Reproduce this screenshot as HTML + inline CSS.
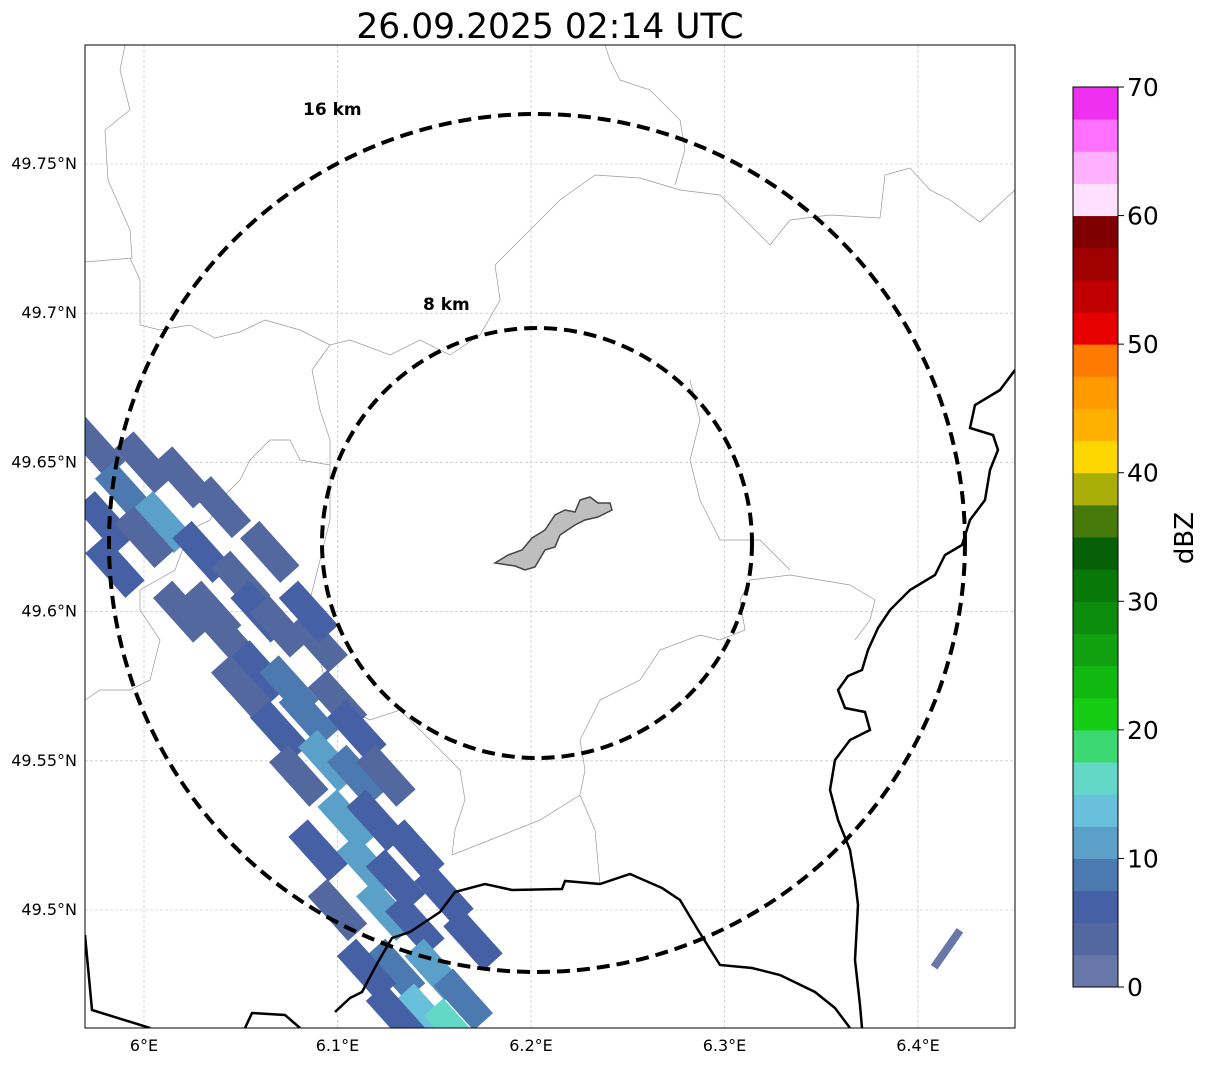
<!DOCTYPE html>
<html><head><meta charset="utf-8"><style>
body{margin:0;background:#fff;font-family:"DejaVu Sans",sans-serif}
</style></head><body>
<svg width="1207" height="1064" xmlns="http://www.w3.org/2000/svg" font-family="DejaVu Sans, sans-serif">
<text x="550" y="38" font-size="34.5" text-anchor="middle">26.09.2025 02:14 UTC</text>
<defs><clipPath id="pc"><rect x="85" y="45" width="930" height="983"/></clipPath></defs>
<g id="grid"></g>
<g clip-path="url(#pc)">
<g fill="none" stroke="#999" stroke-width="0.7">
<polyline points="125,45 120,70 130,110 105,130 108,180 130,230 132,258 85,262"/>
<polyline points="130,258 140,280 140,325 160,330 190,325 215,338 240,332 265,320 300,330 330,345 350,340 390,355 420,340 450,355 480,335 500,300 495,265 520,240 540,220 560,200 595,175 640,178 680,190 720,195 740,215 770,245 790,220 830,215 880,218 885,175 910,168 930,190 950,200 980,222 1015,190"/>
<polyline points="605,45 610,60 620,80 650,90 680,120 685,150 675,185"/>
<polyline points="330,345 312,370 320,410 330,440 330,465 300,460 290,440 270,440 250,460 240,480 220,500 210,520 190,530 175,570 140,590 140,610 160,640 150,680 130,690 100,690 85,700"/>
<polyline points="330,465 330,520 320,560 310,600 300,630 320,660 330,700 350,710 370,720 400,710 430,740 460,770 465,800 455,830 452,855 490,840 540,820 580,795 585,770 580,740 600,700 640,680 660,650 700,635 720,640 745,630 740,600 750,580 790,575 850,585 875,600 870,620 855,640"/>
<polyline points="580,795 595,830 600,885"/>
<polyline points="690,380 700,420 690,460 700,500 720,540 760,540 790,570"/>
</g>
<g id="cells"></g>
<g fill="none" stroke="#000" stroke-width="2.5">
<polyline points="1015,370 1000,390 975,405 970,428 993,435 998,450 990,470 985,500 970,520 962,545 945,555 935,575 910,590 890,610 878,628 868,650 862,670 848,676 838,690 845,708 865,712 870,730 850,740 835,760 830,790 838,820 850,850 855,880 858,905 855,960 860,1005 862,1028"/>
<polyline points="85,935 92,1010 150,1028"/>
<polyline points="245,1028 252,1013 285,1015 300,1028"/>
<polyline points="335,1012 350,998 362,992 378,962 392,938 410,932 440,912 455,892 485,884 512,890 562,889 565,881 600,884 630,874 662,888 680,900 698,930 720,965 752,968 780,975 815,992 835,1008 850,1028"/>
</g>
<polygon points="495,563 508,555 522,550 532,538 545,530 555,515 565,510 575,512 580,500 590,497 598,503 610,503 612,510 598,517 585,520 575,525 560,535 555,547 545,550 535,567 525,570 515,566" fill="#bebebe" stroke="#444" stroke-width="1.5"/>
<ellipse cx="537" cy="543" rx="428" ry="429" fill="none" stroke="#000" stroke-width="4" stroke-dasharray="13,7"/>
<ellipse cx="537" cy="543" rx="215" ry="215" fill="none" stroke="#000" stroke-width="4" stroke-dasharray="13,7"/>
</g>
<text x="303" y="115" font-size="17" font-weight="bold">16 km</text>
<text x="423" y="310" font-size="17" font-weight="bold">8 km</text>
<rect x="85" y="45" width="930" height="983" fill="none" stroke="#000" stroke-width="1"/>
<g id="ticks" font-size="16"></g>
<g id="cbar"></g>
<text transform="translate(1193,538) rotate(-90)" font-size="26" text-anchor="middle">dBZ</text>
</svg>
<script>
const lonTicks=[6.0,6.1,6.2,6.3,6.4];
const lonLabels=["6°E","6.1°E","6.2°E","6.3°E","6.4°E"];
const latTicks=[49.75,49.7,49.65,49.6,49.55,49.5];
const latLabels=["49.75°N","49.7°N","49.65°N","49.6°N","49.55°N","49.5°N"];
const cbTicks=[0,10,20,30,40,50,60,70];
const cbColors=["#6677a8","#5468a0","#4560a5","#4c7ab0","#5aa0c8","#69c0dc","#63d8c8","#3cd872","#14cc14","#10b810","#10a010","#0c8c0c","#087808","#066006","#457a0a","#aaae08","#ffd700","#ffb000","#ff9a00","#ff7a00","#e60000","#c00000","#a00000","#800000","#ffe0ff","#ffb0ff","#ff70ff","#f030f0"];
const cellLon=[5.975,5.99,6.0,6.01,5.98,6.02,6.03,6.04,6.05,6.06,6.07,6.045,6.06,6.075,6.09,6.085,6.07,6.1,6.095,6.11,6.08,6.105,6.12,6.09,6.115,6.13,6.1,6.125,6.14,6.13,6.15,6.115,6.145,6.165,6.16,6.13,6.05,6.035,6.065,6.085,6.11,6.125,6.14,6.155,6.17,6.0,6.02,5.985,6.415];
const cellLat=[49.655,49.64,49.65,49.63,49.63,49.645,49.62,49.635,49.61,49.6,49.595,49.59,49.58,49.575,49.59,49.565,49.56,49.57,49.55,49.545,49.545,49.53,49.53,49.52,49.515,49.51,49.5,49.5,49.495,49.48,49.48,49.48,49.465,49.47,49.46,49.465,49.575,49.6,49.62,49.6,49.56,49.545,49.52,49.505,49.49,49.625,49.6,49.615,49.487];
const cellDbz=[4,8,3,10,5,4,6,3,4,5,3,4,6,8,4,9,5,4,10,8,3,12,6,5,10,7,4,11,6,9,10,5,14,8,17,6,4,3,4,5,6,4,5,6,5,4,3,5,1];
const NS="http://www.w3.org/2000/svg";
const xs=l=>144+(l-6)*1935;
const ys=l=>910-(l-49.5)*2984;
const cy=v=>987-v*900/70;
function col(v){return cbColors[Math.max(0,Math.min(27,Math.floor(v/2.5)))];}
const grid=document.getElementById('grid'),ticks=document.getElementById('ticks');
lonTicks.forEach((t,i)=>{const x=xs(t);
 const l=document.createElementNS(NS,'line');l.setAttribute('x1',x);l.setAttribute('x2',x);l.setAttribute('y1',45);l.setAttribute('y2',1028);l.setAttribute('stroke','#bbb');l.setAttribute('stroke-width','0.6');l.setAttribute('stroke-dasharray','3,2');
 
 grid.appendChild(l);
 const tx=document.createElementNS(NS,'text');tx.setAttribute('x',x);tx.setAttribute('y',1051);tx.setAttribute('text-anchor','middle');tx.textContent=lonLabels[i];
 
 ticks.appendChild(tx);});
latTicks.forEach((t,i)=>{const y=ys(t);
 const l=document.createElementNS(NS,'line');l.setAttribute('x1',85);l.setAttribute('x2',1015);l.setAttribute('y1',y);l.setAttribute('y2',y);l.setAttribute('stroke','#bbb');l.setAttribute('stroke-width','0.6');l.setAttribute('stroke-dasharray','3,2');
 
 grid.appendChild(l);
 const tx=document.createElementNS(NS,'text');tx.setAttribute('x',77);tx.setAttribute('y',y+5);tx.setAttribute('text-anchor','end');tx.textContent=latLabels[i];
 
 ticks.appendChild(tx);});
const cells=document.getElementById('cells');
cellLon.forEach((lo,i)=>{const x=xs(lo),y=ys(cellLat[i]);const small=i===cellLon.length-1;
 const r=document.createElementNS(NS,'rect');const w=small?45:60,h=small?8:26;
 r.setAttribute('x',x-w/2);r.setAttribute('y',y-h/2);r.setAttribute('width',w);r.setAttribute('height',h);
 r.setAttribute('fill',col(cellDbz[i]));r.setAttribute('transform','rotate('+(small?-55:48)+' '+x+' '+y+')');
 
 cells.appendChild(r);});
const cb=document.getElementById('cbar');
cbColors.forEach((c,i)=>{const r=document.createElementNS(NS,'rect');const y1=cy((i+1)*2.5),y0=cy(i*2.5);
 r.setAttribute('x',1073);r.setAttribute('y',y1);r.setAttribute('width',45);r.setAttribute('height',y0-y1+0.5);r.setAttribute('fill',c);
 
 cb.appendChild(r);});
const fr=document.createElementNS(NS,'rect');fr.setAttribute('x',1073);fr.setAttribute('y',cy(70));fr.setAttribute('width',45);fr.setAttribute('height',cy(0)-cy(70));fr.setAttribute('fill','none');fr.setAttribute('stroke','#000');

cb.appendChild(fr);
cbTicks.forEach(t=>{const y=cy(t);const l=document.createElementNS(NS,'line');l.setAttribute('x1',1118);l.setAttribute('x2',1124);l.setAttribute('y1',y);l.setAttribute('y2',y);l.setAttribute('stroke','#000');
 
 cb.appendChild(l);
 const tx=document.createElementNS(NS,'text');tx.setAttribute('x',1127);tx.setAttribute('y',y+9);tx.setAttribute('font-size','25');tx.textContent=t;
 
 cb.appendChild(tx);});
</script>
</body></html>
